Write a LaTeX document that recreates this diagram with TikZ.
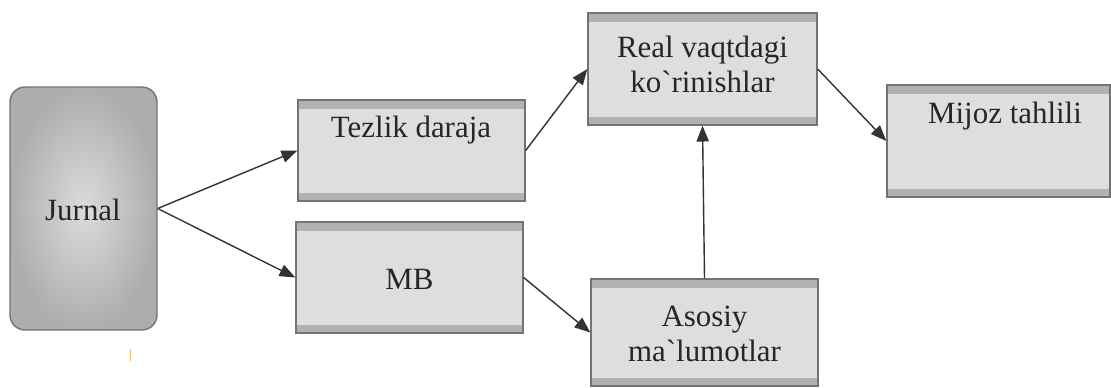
\documentclass[tikz,border=0pt]{standalone}
\usepackage{fontspec}
\setmainfont{Liberation Serif}
\usetikzlibrary{arrows.meta}

\begin{document}
\begin{tikzpicture}[x=0.02cm,y=-0.02cm,line width=.8pt,
    box/.style={draw=black!55,fill=black!13,inner sep=0pt,
      path picture={
        \fill[black!30] (path picture bounding box.north west) rectangle ([yshift=-0.17cm]path picture bounding box.north east);
        \fill[black!30] (path picture bounding box.south west) rectangle ([yshift=0.17cm]path picture bounding box.south east);}},
    txt/.style={font=\fontsize{17.6}{20}\selectfont,text=black!85,align=center,inner sep=0pt},
    arr/.style={draw=black!80,-{Triangle[length=9pt,width=7pt]}}]
  \useasboundingbox (0,0) rectangle (1111,387);

  % boxes
  \node[draw=black!55,rounded corners=0.3cm,inner color=black!14,outer color=black!32,
        minimum width=2.94cm,minimum height=4.86cm] (jurnal) at (83.5,208.5) {};
  \node[box,minimum width=4.54cm,minimum height=2.02cm] (tezlik) at (411.5,150.5) {};
  \node[box,minimum width=4.54cm,minimum height=2.22cm] (mb) at (409.5,277.5) {};
  \node[box,minimum width=4.58cm,minimum height=2.24cm] (real) at (702.5,69) {};
  \node[box,minimum width=4.54cm,minimum height=2.14cm] (asosiy) at (704.5,332.5) {};
  \node[box,minimum width=4.46cm,minimum height=2.24cm] (mijoz) at (998.5,141) {};

  % texts
  \node[txt,anchor=base] (jurnalT) at (83,220) {Jurnal};
  \node[txt,anchor=base] (tezlikT) at (411,137) {Tezlik daraja};
  \node[txt,anchor=base] (mbT) at (409.5,289) {MB};
  \node[txt] (realT) at (702.5,64) {Real vaqtdagi\\ko\textasciigrave rinishlar};
  \node[txt] (asosiyT) at (704.5,334) {Asosiy\\ma\textasciigrave lumotlar};
  \node[txt,anchor=base] (mijozT) at (1005,123) {Mijoz tahlili};

  % arrows
  \draw[arr] (jurnal.east) -- (tezlik.west);
  \draw[arr] (jurnal.east) -- (mb.west);
  \draw[arr] (tezlik.east) -- (real.west);
  \draw[arr] (mb.east) -- (asosiy.west);
  \draw[arr] (asosiy.north) -- (real.south);
  \draw[arr] (real.east) -- (mijoz.west);

  \draw[orange!60,line width=.5pt] (130,349) -- (130,361);
\end{tikzpicture}
\end{document}
